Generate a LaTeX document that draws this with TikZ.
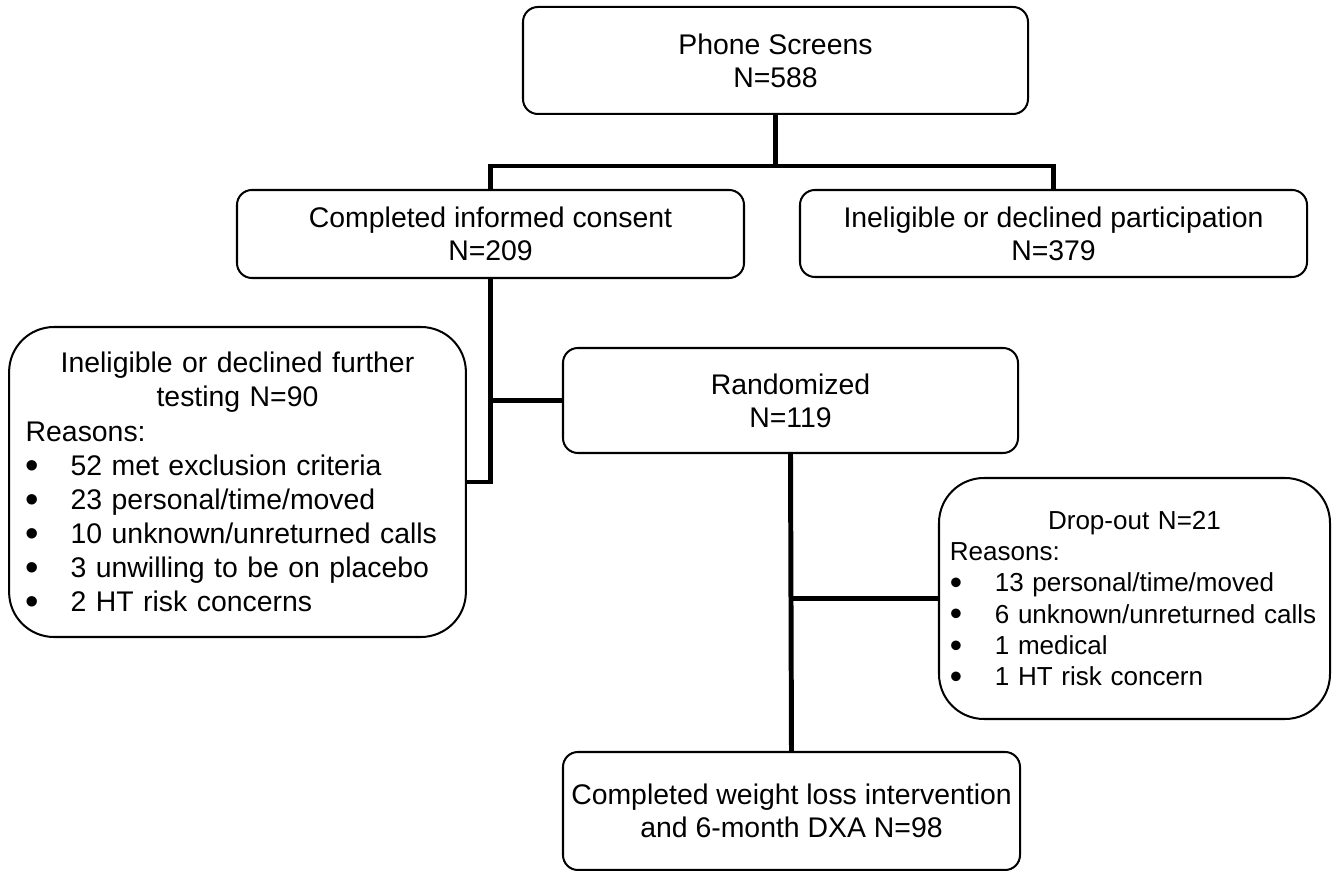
\documentclass[tikz,border=0pt]{standalone}
\usepackage{fontspec}
\setmainfont{Liberation Sans}
\newcommand\pxu{0.4225pt}
\newcommand\bul[1]{\mbox{\makebox[19pt][l]{\smash{\raisebox{-0.11em}{\scalebox{1.35}{\textbullet}}}}#1}}
\setlength{\parindent}{0pt}
\hfuzz=20pt
\begin{document}
\begin{tikzpicture}[x=0.4225pt, y=-0.4225pt,
  box/.style={draw, rounded corners=6.3pt, line width=0.85pt, align=center, inner sep=0pt,
    font=\fontsize{12pt}{14pt}\selectfont},
  bigbox/.style={draw, rounded corners=19pt, line width=0.85pt, inner ysep=0pt},
  conn/.style={line width=2.1pt, line join=miter}]
\useasboundingbox (0,0) rectangle (1341,871);

\node[box, minimum width={505*\pxu}, minimum height={107*\pxu}] (phone) at (775.5,60.5) {Phone Screens\\N=588};
\node[box, minimum width={507*\pxu}, minimum height={88*\pxu}] (consent) at (490.5,234) {Completed informed consent\\N=209};
\node[box, minimum width={507*\pxu}, minimum height={87*\pxu}] (inel) at (1053.5,233.5) {Ineligible or declined participation\\N=379};
\node[box, minimum width={455*\pxu}, minimum height={105*\pxu}] (rand) at (790.5,400.5) {Randomized\\N=119};
\node[box, minimum width={457*\pxu}, minimum height={118*\pxu}] (final) at (791.5,811) {Completed weight loss intervention\\and 6-month DXA N=98};

\node[bigbox, text width=179pt, inner xsep=7pt, minimum height={310*\pxu},
  font=\fontsize{12pt}{14.4pt}\selectfont] (excl) at (237.5,482)
  {\centering Ineligible or declined further\\testing N=90\par
   \raggedright Reasons:\\
   \bul{52 met exclusion criteria}\\
   \bul{23 personal/time/moved}\\
   \bul{10 unknown/unreturned calls}\\
   \bul{3 unwilling to be on placebo}\\
   \bul{2 HT risk concerns}};

\node[bigbox, text width=156pt, inner xsep=4.6pt, minimum height={241*\pxu},
  font=\fontsize{11pt}{13.2pt}\selectfont] (drop) at (1134.5,598.5)
  {\centering Drop-out N=21\par
   \raggedright Reasons:\\
   \bul{13 personal/time/moved}\\
   \bul{6 unknown/unreturned calls}\\
   \bul{1 medical}\\
   \bul{1 HT risk concern}};

\coordinate (split) at (775.5,166);
\draw[conn] (phone.south) -- (split);
\draw[conn] (consent.north) -- (consent.north |- split) -- (inel.north |- split) -- (inel.north);
\draw[conn] (consent.south) |- (excl.east);
\draw[conn] (rand.west) -- (rand.west -| consent.south);
\draw[conn] (rand.south) -- (final.north);
\draw[conn] (drop.west) -- (drop.west -| rand.south);
\end{tikzpicture}
\end{document}
